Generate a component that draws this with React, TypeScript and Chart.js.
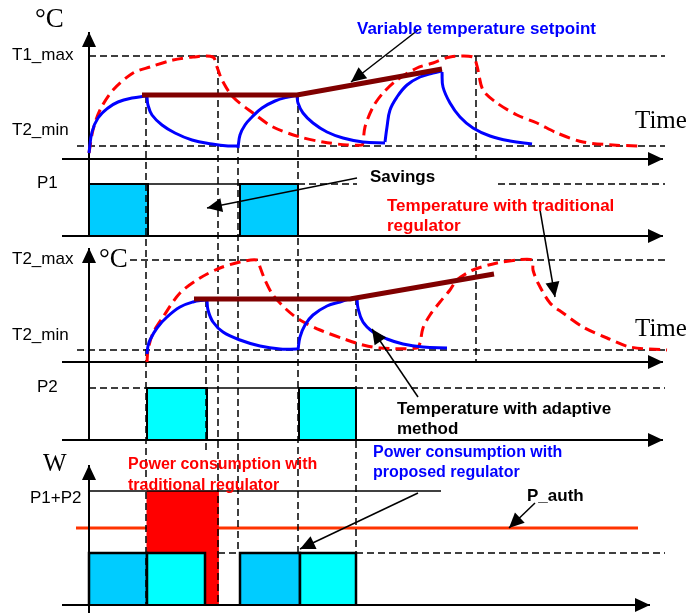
import React, { useEffect, useRef } from "react";
import { Chart, registerables } from "chart.js";

Chart.register(...registerables);

// ---------------- DATA ----------------
// x: time units (0 = origin of the time axes)
// temperature panels: units above T2_min ; power panels: heater power units
const T_MAX = 90;
const T_MIN = 0;
const P_ON = 1;
const P_SUM = 2.19;
const P_AUTH = 1.48;

// Zone 1 - temperature with adaptive method (one stroke per array)
const adaptive1Rise1 = [[0, -7], [3, 14], [9, 28], [19, 38], [29, 44], [43, 48], [57, 50]];
const adaptive1Fall1 = [[58, 49], [59, 41], [63, 31], [73, 21], [86, 13], [103, 6], [123, 2], [139, 0], [149, 0]];
const adaptive1Rise2 = [[149, -2], [151, 11], [156, 21], [163, 29], [173, 38], [186, 45], [199, 49], [209, 51]];
const adaptive1Fall2 = [[208, 51], [209, 43], [214, 33], [224, 23], [238, 14], [254, 8], [274, 4], [296, 3]];
const adaptive1Rise3 = [[296, 4], [298, 19], [301, 36], [308, 49], [318, 61], [331, 69], [344, 73], [353, 75]];
const adaptive1Fall3 = [[353, 74], [354, 59], [361, 43], [371, 29], [384, 18], [401, 10], [421, 5], [443, 2]];
// Zone 1 - temperature with traditional regulator
const traditional1 = [[0, -7], [4, 16], [11, 36], [24, 56], [44, 73], [61, 79], [84, 86], [104, 89], [124, 89], [128, 79], [133, 66], [144, 49], [164, 33], [184, 19], [211, 9], [234, 4], [258, 1], [273, 1], [274, 3], [276, 19], [284, 39], [294, 53], [308, 66], [328, 78], [344, 83], [361, 89], [384, 89], [388, 80], [394, 56], [408, 43], [428, 31], [448, 23], [468, 13], [494, 4], [524, 1], [549, 0]];
// Zone 1 - variable setpoint
const setpoint1 = [[53, 51], [208, 51], [353, 77]];

// Zone 2 - temperature with adaptive method
const adaptive2Rise1 = [[58, -4], [59, 4], [61, 10], [68, 22], [78, 33], [91, 43], [104, 48], [116, 50]];
const adaptive2Fall1 = [[118, 50], [119, 40], [124, 28], [134, 18], [151, 10], [171, 4], [191, 1], [208, 1]];
const adaptive2Rise2 = [[209, 0], [211, 13], [216, 25], [224, 35], [238, 44], [251, 48], [264, 52], [268, 52]];
const adaptive2Fall2 = [[268, 52], [269, 42], [274, 28], [284, 18], [298, 11], [314, 6], [334, 3], [358, 2]];
// Zone 2 - temperature with traditional regulator
const traditional2 = [[58, -12], [59, 0], [64, 17], [74, 33], [91, 57], [111, 72], [131, 82], [151, 88], [168, 90], [171, 83], [176, 70], [184, 55], [198, 40], [211, 30], [231, 20], [258, 10], [274, 5], [291, 2], [328, 2], [331, 7], [334, 22], [341, 35], [351, 48], [361, 60], [368, 70], [384, 80], [408, 87], [428, 90], [443, 90], [444, 80], [449, 67], [461, 47], [474, 37], [494, 23], [518, 12], [541, 3], [578, 0]];
const setpoint2 = [[105, 51], [261, 51], [405, 76]];

// heater on-intervals [start, end]
const heater1On = [[0, 59], [151, 209]];
const heater2On = [[58, 118], [210, 267]];
// power drawn: traditional regulator (both heaters) and proposed regulator
const traditionalLoad = [[58, 129]];
const proposedP1 = [[0, 58], [151, 211]];
const proposedP2 = [[58, 116], [211, 267]];

// ---------------- LAYOUT / STYLE ----------------
const W = 691, H = 615;
const panels: Record<string, { base: number; ppu: number }> = {
  yF: { base: 146, ppu: 1 },
  yT1: { base: 146, ppu: 1 },
  yP1: { base: 236, ppu: 52 },
  yT2: { base: 350, ppu: 1 },
  yP2: { base: 440, ppu: 52 },
  yW: { base: 605, ppu: 52 },
};
const SANS = '"Liberation Sans", Arial, sans-serif';
const SERIF = '"Liberation Serif", "Times New Roman", serif';
const BLUE = "#0000FF";
const RED = "#FF0000";
const DARKRED = "#800000";
const CYAN1 = "#00CCFF";
const CYAN2 = "#00FFFF";
const AUTH = "#FF3300";
const DASH = [7, 4];
const RDASH = [11, 6];

// frame decorations on the yF scale
const verticalGuides = [[57, 50, -459], [117, -154, -306], [129, 90, -459], [149, 0, -407], [209, 51, -407], [267, -152, -459], [387, 90, -13], [387, -114, -216]];
const axisArrows = [
  { from: [0, -90], to: [0, 114] },
  { from: [0, -294], to: [0, -102] },
  { from: [0, -467], to: [0, -319] },
  { from: [-27, -13], to: [574, -13] },
  { from: [-27, -90], to: [574, -90] },
  { from: [-27, -216], to: [574, -216] },
  { from: [-27, -294], to: [574, -294] },
  { from: [-27, -459], to: [561, -459] },
];
const noteArrows = [
  { from: [329, 116], to: [262, 64] },
  { from: [268, -32], to: [118, -62] },
  { from: [451, -64], to: [466, -151] },
  { from: [329, -251], to: [283, -183] },
  { from: [329, -347], to: [211, -403] },
  { from: [446, -357], to: [420, -382] },
];
type Label = { text: string; t: number; v: number; size: number; bold?: boolean; serif?: boolean; color?: string };
const annotationLabels: Label[] = [
  { text: "°C", t: -54, v: 126, size: 27, serif: true },
  { text: "T1_max", t: -77, v: 91, size: 17 },
  { text: "T2_min", t: -77, v: 16, size: 17 },
  { text: "Time", t: 546, v: 25, size: 25, serif: true },
  { text: "Variable temperature setpoint", t: 268, v: 117, size: 17, bold: true, color: BLUE },
  { text: "P1", t: -52, v: -37, size: 17 },
  { text: "Savings", t: 281, v: -31, size: 17, bold: true },
  { text: "Temperature with traditional", t: 298, v: -60, size: 17, bold: true, color: RED },
  { text: "regulator", t: 298, v: -80, size: 17, bold: true, color: RED },
  { text: "T2_max", t: -77, v: -113, size: 17 },
  { text: "°C", t: 10, v: -114, size: 27, serif: true },
  { text: "T2_min", t: -77, v: -189, size: 17 },
  { text: "Time", t: 546, v: -183, size: 25, serif: true },
  { text: "P2", t: -52, v: -241, size: 17 },
  { text: "Temperature with adaptive", t: 308, v: -263, size: 17, bold: true },
  { text: "method", t: 308, v: -283, size: 17, bold: true },
  { text: "W", t: -46, v: -318, size: 25, serif: true },
  { text: "Power consumption with", t: 39, v: -319, size: 16, bold: true, color: RED },
  { text: "traditional regulator", t: 39, v: -340, size: 16, bold: true, color: RED },
  { text: "Power consumption with", t: 284, v: -307, size: 16, bold: true, color: BLUE },
  { text: "proposed regulator", t: 284, v: -327, size: 16, bold: true, color: BLUE },
  { text: "P1+P2", t: -59, v: -352, size: 17 },
  { text: "P_auth", t: 438, v: -350, size: 17, bold: true },
];

// ---------------- DATASETS ----------------
function buildDatasets() {
  const ds: any[] = [];
  const toXY = (a: number[][]) => a.map(([x, y]) => ({ x, y }));
  const poly = (points: number[][], yAxisID: string, color: string, width: number, dash: number[] = [], tension = 0) =>
    ds.push({ data: toXY(points), yAxisID, borderColor: color, borderWidth: width, borderDash: dash, pointRadius: 0, fill: false, tension });
  const box = (t0: number, t1: number, h: number, yAxisID: string, color: string, border: number) =>
    ds.push({
      data: toXY([[t0, 0], [t0, h], [t1, h], [t1, 0]]), yAxisID,
      borderColor: border ? "#000" : color, borderWidth: border || 1, backgroundColor: color,
      fill: "origin", pointRadius: 0, tension: 0,
    });

  // horizontal guides
  poly([[0, T_MAX], [576, T_MAX]], "yT1", "#000", 1.5, DASH);
  poly([[-12, T_MIN], [576, T_MIN]], "yT1", "#000", 1.5, DASH);
  poly([[209, P_ON], [268, P_ON]], "yP1", "#000", 1.5, DASH);
  poly([[409, P_ON], [576, P_ON]], "yP1", "#000", 1.5, DASH);
  poly([[41, T_MAX], [576, T_MAX]], "yT2", "#000", 1.5, DASH);
  poly([[-12, T_MIN], [576, T_MIN]], "yT2", "#000", 1.5, DASH);
  poly([[0, P_ON], [58, P_ON]], "yP2", "#000", 1.5, DASH);
  poly([[267, P_ON], [576, P_ON]], "yP2", "#000", 1.5, DASH);
  poly([[129, P_ON], [151, P_ON]], "yW", "#000", 1.5, DASH);
  poly([[267, P_ON], [576, P_ON]], "yW", "#000", 1.5, DASH);
  // authorised power
  poly([[-13, P_AUTH], [549, P_AUTH]], "yW", AUTH, 3);
  // boxes
  traditionalLoad.forEach(([a, b]) => box(a, b, P_SUM, "yW", RED, 0));
  heater1On.forEach(([a, b]) => box(a, b, P_ON, "yP1", CYAN1, 2));
  heater2On.forEach(([a, b]) => box(a, b, P_ON, "yP2", CYAN2, 2));
  proposedP1.forEach(([a, b]) => box(a, b, P_ON, "yW", CYAN1, 2.5));
  proposedP2.forEach(([a, b]) => box(a, b, P_ON, "yW", CYAN2, 2.5));
  // solid levels
  poly([[0, P_ON], [209, P_ON]], "yP1", "#000", 1.5);
  poly([[58, P_ON], [267, P_ON]], "yP2", "#000", 1.5);
  poly([[0, P_SUM], [352, P_SUM]], "yW", "#000", 1.5);
  // vertical guides
  verticalGuides.forEach(([t, a, b]) => poly([[t, a], [t, b]], "yF", "#000", 1.5, DASH));
  // axes
  axisArrows.forEach((a) => poly([a.from, a.to], "yF", "#000", 2));
  // temperatures
  poly(traditional1, "yT1", RED, 3, RDASH, 0.3);
  poly(traditional2, "yT2", RED, 3, RDASH, 0.3);
  [adaptive1Rise1, adaptive1Fall1, adaptive1Rise2, adaptive1Fall2, adaptive1Rise3, adaptive1Fall3].forEach((s) => poly(s, "yT1", BLUE, 3, [], 0.4));
  [adaptive2Rise1, adaptive2Fall1, adaptive2Rise2, adaptive2Fall2].forEach((s) => poly(s, "yT2", BLUE, 3, [], 0.4));
  poly(setpoint1, "yT1", DARKRED, 5);
  poly(setpoint2, "yT2", DARKRED, 5);
  // annotation arrow shafts
  noteArrows.forEach((a) => poly([a.from, a.to], "yF", "#000", 1.5));

  const n = ds.length;
  ds.forEach((d, i) => (d.order = n - i));
  return ds;
}

const decorPlugin = {
  id: "decor",
  afterDatasetsDraw(chart: any) {
    const ctx = chart.ctx;
    const xs = chart.scales.x, ys = chart.scales.yF;
    const px = (t: number) => xs.getPixelForValue(t);
    const py = (v: number) => ys.getPixelForValue(v);
    ctx.save();
    const heads = [...axisArrows, ...noteArrows].map((a) => ({ ...a, L: 15, w: 7 }));
    for (const a of heads) {
      const x0 = px(a.from[0]), y0 = py(a.from[1]);
      const x1 = px(a.to[0]), y1 = py(a.to[1]);
      const len = Math.hypot(x1 - x0, y1 - y0);
      const ux = (x1 - x0) / len, uy = (y1 - y0) / len;
      ctx.beginPath();
      ctx.moveTo(x1, y1);
      ctx.lineTo(x1 - a.L * ux - a.w * uy, y1 - a.L * uy + a.w * ux);
      ctx.lineTo(x1 - a.L * ux + a.w * uy, y1 - a.L * uy - a.w * ux);
      ctx.closePath();
      ctx.fillStyle = "#000";
      ctx.fill();
    }
    ctx.textBaseline = "middle";
    ctx.textAlign = "left";
    for (const l of annotationLabels) {
      ctx.font = `${l.bold ? "bold " : ""}${l.size}px ${l.serif ? SERIF : SANS}`;
      ctx.fillStyle = l.color || "#000";
      ctx.fillText(l.text, px(l.t), py(l.v));
    }
    ctx.restore();
  },
};

export default function App() {
  const ref = useRef<HTMLCanvasElement>(null);
  useEffect(() => {
    const scales: any = { x: { type: "linear", min: -89, max: W - 89, display: false } };
    Object.entries(panels).forEach(([id, p]) => {
      scales[id] = { type: "linear", display: false, min: (p.base - H) / p.ppu, max: p.base / p.ppu };
    });
    const chart = new Chart(ref.current as HTMLCanvasElement, {
      type: "line",
      data: { datasets: buildDatasets() },
      options: {
        animation: false,
        responsive: false,
        maintainAspectRatio: false,
        events: [],
        layout: { padding: 0 },
        plugins: { legend: { display: false }, tooltip: { enabled: false }, title: { display: false } },
        scales,
      } as any,
      plugins: [decorPlugin],
    });
    return () => chart.destroy();
  }, []);
  return (
    <div style={{ position: "absolute", left: 0, top: 0, width: W, height: H, background: "#fff" }}>
      <canvas ref={ref} width={W} height={H} style={{ display: "block", width: W, height: H }} />
    </div>
  );
}
